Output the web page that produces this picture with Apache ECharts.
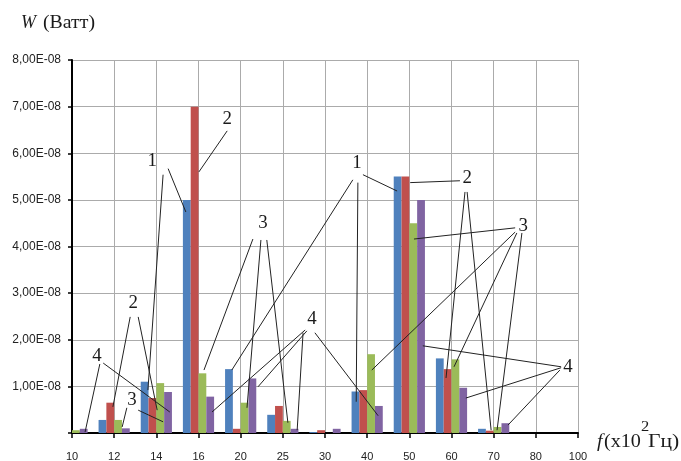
<!DOCTYPE html>
<html>
<head>
<meta charset="utf-8">
<script src="https://cdn.jsdelivr.net/npm/echarts@6/dist/echarts.min.js"></script>
<style>
html, body { margin: 0; padding: 0; background: #fff; }
#chart { width: 681px; height: 461px; }
</style>
</head>
<body>
<div id="chart"></div>
<script>
// частоты, x10^2 Гц
const categories = ['10', '12', '14', '16', '20', '25', '30', '40', '50', '60', '70', '80', '100'];
// мощность, Вт
const series1 = [0, 0.28e-8, 1.10e-8, 5.00e-8, 1.37e-8, 0.39e-8, 0.02e-8, 0.89e-8, 5.50e-8, 1.60e-8, 0.09e-8, 0, 0];
const series2 = [0, 0.65e-8, 0.75e-8, 7.00e-8, 0.09e-8, 0.58e-8, 0.06e-8, 0.92e-8, 5.50e-8, 1.37e-8, 0.05e-8, 0, 0];
const series3 = [0.06e-8, 0.28e-8, 1.07e-8, 1.28e-8, 0.65e-8, 0.26e-8, 0, 1.69e-8, 4.50e-8, 1.58e-8, 0.13e-8, 0, 0];
const series4 = [0.09e-8, 0.10e-8, 0.88e-8, 0.78e-8, 1.17e-8, 0.09e-8, 0.09e-8, 0.58e-8, 5.00e-8, 0.97e-8, 0.21e-8, 0, 0];
const yMax = 8e-8;
const yStep = 1e-8;

const colors = ['#4f81bd', '#c0504d', '#9bbb59', '#8064a2'];

// выноски: подпись [индекс категории, значение x1e-8] и линии [x1, y1, x2, y2] в тех же единицах
const notes = [
    { text: '1', at: [1.90, 5.82], lines: [[2.28, 5.67, 2.70, 4.74], [2.16, 5.54, 1.80, 0.92]] },
    { text: '2', at: [3.68, 6.72], lines: [[3.68, 6.48, 3.01, 5.60]] },
    { text: '2', at: [1.45, 2.79], lines: [[1.38, 2.49, 0.97, 0.56], [1.57, 2.49, 2.02, 0.49]] },
    { text: '3', at: [1.42, 0.71], lines: [[1.30, 0.54, 1.19, 0.13], [1.57, 0.49, 2.16, 0.24]] },
    { text: '4', at: [0.59, 1.65], lines: [[0.66, 1.48, 0.31, 0.02], [0.74, 1.50, 2.32, 0.45]] },
    { text: '3', at: [4.53, 4.49], lines: [[4.29, 4.16, 3.13, 1.35], [4.48, 4.14, 4.15, 0.54], [4.62, 4.14, 5.12, 0.22]] },
    { text: '1', at: [6.76, 5.79], lines: [[6.90, 5.54, 7.71, 5.19], [6.66, 5.43, 3.79, 1.35], [6.78, 5.37, 6.74, 0.67]] },
    { text: '4', at: [5.69, 2.43], lines: [[5.57, 2.19, 4.41, 0.99], [5.53, 2.21, 3.32, 0.45], [5.48, 2.15, 5.34, 0.06], [5.76, 2.15, 7.26, 0.37]] },
    { text: '2', at: [9.37, 5.47], lines: [[9.20, 5.41, 8.02, 5.37], [9.32, 5.17, 8.87, 1.18], [9.37, 5.17, 9.94, 0.06]] },
    { text: '3', at: [10.70, 4.44], lines: [[10.51, 4.40, 8.11, 4.16], [10.51, 4.31, 7.11, 1.35], [10.55, 4.29, 9.06, 1.42], [10.67, 4.29, 10.08, 0.06]] },
    { text: '4', at: [11.76, 1.42], lines: [[11.60, 1.42, 8.32, 1.87], [11.60, 1.40, 9.34, 0.75], [11.57, 1.35, 10.34, 0.17]] }
];

const serif = '"Liberation Serif", "DejaVu Serif", serif';
const sans = '"Liberation Sans", Arial, sans-serif';

var chart = echarts.init(document.getElementById('chart'));

function bar(data, i) {
    return {
        type: 'bar',
        data: data,
        barGap: '0%',
        barCategoryGap: '26%',
        itemStyle: { color: colors[i] },
        clip: true
    };
}

chart.setOption({
    animation: false,
    grid: { left: 72, right: 103, top: 60, bottom: 28, containLabel: false, outerBoundsMode: 'none' },
    xAxis: {
        type: 'category',
        data: categories,
        boundaryGap: false,
        axisLine: { lineStyle: { color: '#000', width: 2 } },
        axisTick: { show: true, length: 5, lineStyle: { color: '#000', width: 1.5 } },
        axisLabel: { margin: 18, color: '#222', fontSize: 11, fontFamily: sans, interval: 0 },
        splitLine: { show: true, lineStyle: { color: '#ababab', width: 1 } }
    },
    yAxis: {
        type: 'value',
        min: 0,
        max: yMax,
        interval: yStep,
        axisLine: { show: true, lineStyle: { color: '#000', width: 2 } },
        axisTick: { show: true, length: 4, lineStyle: { color: '#000', width: 1.5 } },
        axisLabel: {
            margin: 11,
            color: '#222',
            fontSize: 12,
            fontFamily: sans,
            formatter: function (v) {
                if (v === 0) return '';
                return (v / yStep).toFixed(2).replace('.', ',') + 'E-08';
            }
        },
        splitLine: { show: true, lineStyle: { color: '#ababab', width: 1 } }
    },
    series: [bar(series1, 0), bar(series2, 1), bar(series3, 2), bar(series4, 3)]
});

function txt(x, y, text, font, align, sx) {
    return {
        type: 'text', x: x, y: y, z: 100, scaleX: sx || 1,
        style: {
            text: text, font: font, fill: '#1a1a1a',
            align: align || 'left', textAlign: align || 'left',
            verticalAlign: 'middle', textVerticalAlign: 'middle'
        }
    };
}

function drawNotes() {
    const p0 = chart.convertToPixel({ gridIndex: 0 }, [0, 0]);
    const p1 = chart.convertToPixel({ gridIndex: 0 }, [1, 0]);
    const step = p1[0] - p0[0];
    const px = (i) => p0[0] + i * step;
    const py = (v) => chart.convertToPixel({ yAxisIndex: 0 }, v * yStep);
    const els = [];
    notes.forEach(n => {
        n.lines.forEach(l => {
            els.push({
                type: 'line', z: 100,
                shape: { x1: px(l[0]), y1: py(l[1]), x2: px(l[2]), y2: py(l[3]) },
                style: { stroke: '#222', lineWidth: 1 }
            });
        });
        els.push(txt(px(n.at[0]), py(n.at[1]), n.text, '18px ' + serif, 'center', 1.05));
    });
    // подписи осей
    els.push(txt(21, 23, 'W', 'italic 18px ' + serif, 'left', 1.0));
    els.push(txt(43, 23, '(Ватт)', '18px ' + serif, 'left', 1.1));
    els.push(txt(597, 442, 'f', 'italic 18px ' + serif, 'left', 1.1));
    els.push(txt(604, 442, '(x10', '18px ' + serif, 'left', 1.12));
    els.push(txt(641, 427, '2', '15px ' + serif, 'left', 1.1));
    els.push(txt(648, 442, 'Гц)', '18px ' + serif, 'left', 1.2));
    chart.setOption({ graphic: { elements: els } });
}

drawNotes();
</script>
</body>
</html>
